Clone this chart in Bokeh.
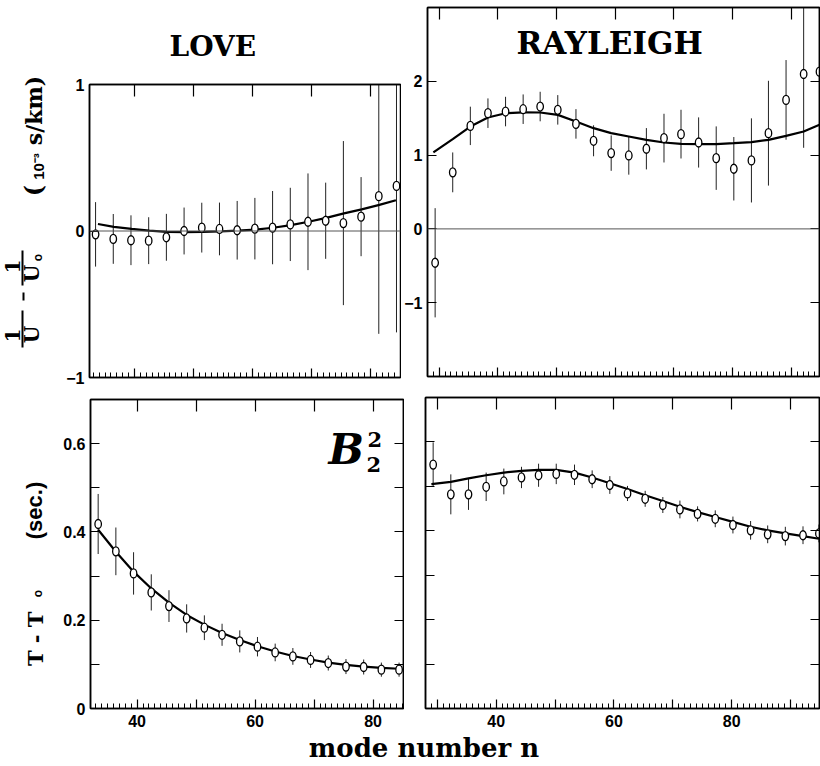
import numpy as np
from bokeh.plotting import figure
from bokeh.models import (Range1d, LinearAxis, FixedTicker, Span, Label, Title,
                          CustomLabelingPolicy)
from bokeh.layouts import row, column
from bokeh.embed import file_html
from bokeh.resources import INLINE

# ---------------- data ----------------
# LOVE (left panels)
love_n = [33.4, 36.4, 39.4, 42.4, 45.4, 48.4, 51.4, 54.4, 57.4, 60.4, 63.4, 66.4,
          69.4, 72.4, 75.4, 78.4, 81.4, 84.4]
love_du = [-0.023, -0.054, -0.063, -0.066, -0.043, 0.0, 0.023, 0.014, 0.005, 0.016,
           0.023, 0.045, 0.063, 0.070, 0.054, 0.098, 0.238, 0.308]
love_du_err = [0.22, 0.17, 0.17, 0.16, 0.16, 0.16, 0.17, 0.18, 0.20, 0.21, 0.25, 0.25,
               0.33, 0.26, 0.56, 0.27, 0.94, 1.00]
love_du_fit_n = [33.8, 36.5, 39.5, 42.5, 45.5, 48.5, 51.5, 54.5, 57.5, 60.5, 63.5, 66.5,
                 69.5, 72.5, 75.5, 78.5, 81.5, 84.3]
love_du_fit = [0.048, 0.028, 0.014, 0.003, -0.006, -0.008, -0.006, -0.002, 0.003, 0.010,
               0.022, 0.040, 0.063, 0.090, 0.120, 0.148, 0.178, 0.210]
love_dt = [0.418, 0.356, 0.306, 0.263, 0.232, 0.204, 0.183, 0.167, 0.152, 0.140, 0.127,
           0.118, 0.110, 0.103, 0.095, 0.094, 0.088, 0.088]
love_dt_err = [0.068, 0.054, 0.048, 0.041, 0.036, 0.032, 0.028, 0.025, 0.025, 0.022,
               0.020, 0.019, 0.018, 0.017, 0.017, 0.017, 0.016, 0.016]
love_dt_fit = [0.405, 0.355, 0.310, 0.272, 0.240, 0.212, 0.190, 0.171, 0.155, 0.141,
               0.129, 0.119, 0.111, 0.104, 0.099, 0.095, 0.092, 0.090]

# RAYLEIGH (right panels)
ray_n = [29.3, 32.3, 35.3, 38.3, 41.3, 44.3, 47.2, 50.2, 53.3, 56.3, 59.3, 62.3, 65.3,
         68.3, 71.2, 74.2, 77.2, 80.2, 83.2, 86.1, 89.1, 92.1, 94.8]
ray_du = [-0.459, 0.766, 1.396, 1.568, 1.590, 1.622, 1.658, 1.613, 1.423, 1.194, 1.027,
          0.995, 1.086, 1.230, 1.284, 1.171, 0.959, 0.815, 0.928, 1.297, 1.748, 2.099, 2.131]
ray_du_err = [0.74, 0.27, 0.26, 0.20, 0.20, 0.20, 0.20, 0.20, 0.20, 0.21, 0.24, 0.26,
              0.28, 0.33, 0.33, 0.34, 0.43, 0.43, 0.57, 0.71, 0.54, 1.00, 1.30]
ray_fit_n = [29.0, 32.3, 35.3, 38.3, 41.3, 44.3, 47.2, 50.2, 53.3, 56.3, 59.3, 62.3, 65.3,
             68.3, 71.2, 74.2, 77.2, 80.2, 83.2, 86.1, 89.1, 92.1, 94.8]
ray_du_fit = [1.036, 1.216, 1.387, 1.510, 1.567, 1.580, 1.577, 1.545, 1.455, 1.365, 1.297,
              1.252, 1.207, 1.171, 1.153, 1.149, 1.149, 1.162, 1.176, 1.207, 1.261, 1.320, 1.410]
ray_dt = [0.549, 0.482, 0.482, 0.499, 0.511, 0.520, 0.525, 0.528, 0.526, 0.516, 0.503,
          0.484, 0.472, 0.458, 0.448, 0.438, 0.427, 0.413, 0.401, 0.392, 0.388, 0.390, 0.394]
ray_dt_err = [0.050, 0.045, 0.035, 0.032, 0.029, 0.024, 0.026, 0.023, 0.023, 0.020, 0.020,
              0.017, 0.018, 0.018, 0.020, 0.017, 0.019, 0.019, 0.021, 0.020, 0.021, 0.020, 0.020]
ray_dt_fit = [0.505, 0.510, 0.518, 0.525, 0.531, 0.535, 0.537, 0.537, 0.531, 0.520, 0.507,
              0.494, 0.480, 0.467, 0.454, 0.442, 0.431, 0.420, 0.409, 0.401, 0.394, 0.388, 0.382]

x_major = [30, 40, 50, 60, 70, 80, 90]
x_labelled = [40, 60, 80]

TICK_FONT = "Liberation Sans"
SERIF = "DejaVu Serif"

KEEP_CODE = "for (const i of indices) { if (keep.includes(i)) yield i }"


def style_axis(ax, major_in, minor_in):
    ax.axis_line_color = "black"
    ax.axis_line_width = 1.5
    ax.major_tick_line_color = "black"
    ax.major_tick_line_width = 1.2
    ax.minor_tick_line_color = "black"
    ax.minor_tick_line_width = 1.0
    ax.major_tick_out = 0
    ax.minor_tick_out = 0
    ax.major_tick_in = major_in
    ax.minor_tick_in = minor_in


def no_labels(ax):
    ax.major_label_text_font_size = "0px"
    ax.major_label_standoff = 0
    ax.major_label_policy = CustomLabelingPolicy(code=KEEP_CODE, args=dict(keep=[]))


def with_labels(ax, standoff):
    ax.major_label_text_font = TICK_FONT
    ax.major_label_text_font_style = "bold"
    ax.major_label_text_font_size = "16px"
    ax.major_label_text_color = "black"
    ax.major_label_standoff = standoff


def panel(w, h, bl, bt, br, bb, xr, yr, yticks, yminor, show_x, show_y, right_ticks):
    p = figure(width=w, height=h, x_range=Range1d(*xr), y_range=Range1d(*yr),
               x_axis_type=None, y_axis_type=None, output_backend="svg",
               toolbar_location=None, min_border_left=bl, min_border_top=bt,
               min_border_right=br, min_border_bottom=bb)
    p.frame_align = False
    p.outline_line_color = "black"
    p.outline_line_width = 1.5
    p.background_fill_color = "white"
    p.border_fill_color = "white"

    below = LinearAxis(ticker=FixedTicker(ticks=x_major, minor_ticks=list(range(26, 97))))
    style_axis(below, 9, 5)
    if show_x:
        with_labels(below, 6)
        shown = [t for t in x_major if xr[0] <= t <= xr[1]]
        keep = [i for i, t in enumerate(shown) if t in x_labelled]
        below.major_label_policy = CustomLabelingPolicy(code=KEEP_CODE, args=dict(keep=keep))
    else:
        no_labels(below)
    p.add_layout(below, "below")

    above = LinearAxis(ticker=FixedTicker(ticks=x_major, minor_ticks=[]))
    style_axis(above, 12, 0)
    no_labels(above)
    p.add_layout(above, "above")

    left = LinearAxis(ticker=FixedTicker(ticks=yticks, minor_ticks=yminor))
    style_axis(left, 9, 9)
    if show_y:
        with_labels(left, 5)
    else:
        no_labels(left)
    p.add_layout(left, "left")

    if right_ticks:
        right = LinearAxis(ticker=FixedTicker(ticks=yticks, minor_ticks=yminor))
        style_axis(right, 9, 9)
        no_labels(right)
        p.add_layout(right, "right")
    return p


def draw(p, n, y, err, fit_n, fit):
    y = np.array(y)
    e = np.array(err)
    p.segment(x0=n, y0=y - e, x1=n, y1=y + e, line_color="#222222", line_width=1)
    p.line(fit_n, fit, line_color="black", line_width=2.2)
    p.ellipse(x=n, y=y, width=6.5, height=9, width_units="screen", height_units="screen",
              fill_color="white", line_color="black", line_width=1.3)


def px2data(px, py, frame, xr, yr):
    fl, ft, fr, fb = frame
    x = xr[0] + (px - fl) / (fr - fl) * (xr[1] - xr[0])
    y = yr[0] + (fb - py) / (fb - ft) * (yr[1] - yr[0])
    return x, y


def tlabel(p, x, y, text, size, style="bold", align="left"):
    # y is the vertical middle of the text
    p.add_layout(Label(x=x, y=y, text=text, text_font=SERIF, text_font_style=style,
                       text_font_size=size, text_align=align, text_baseline="middle",
                       text_color="black"))


# ---------------- panels ----------------
TOP_H, BOT_H = 385, 348

xr1, yr1 = (32.37, 85.08), (-1.0, 1.0)
p1 = panel(351, TOP_H, 39, 84, 1, 8, xr1, yr1, [-1, 0, 1], [], False, True, False)
p1.add_layout(Span(location=0, dimension="width", line_color="#555555", line_width=1))
draw(p1, love_n, love_du, love_du_err, love_du_fit_n, love_du_fit)
p1.add_layout(Title(text="LOVE", align="left", offset=80, standoff=43, text_font=SERIF,
                    text_font_style="bold", text_font_size="28px", text_color="black"),
              "above")

xr2, yr2 = (28.0, 94.8), (-2.0, 3.0)
p2 = panel(419, TOP_H, 22, 7, 1, 9, xr2, yr2, [-1, 0, 1, 2], [], False, True, True)
p2.add_layout(Span(location=0, dimension="width", line_color="#555555", line_width=1))
draw(p2, ray_n, ray_du, ray_du_err, ray_fit_n, ray_du_fit)
rx, ry = px2data(607, 42.5, (423, 7, 819, 376), xr2, yr2)
tlabel(p2, rx, ry, "RAYLEIGH", "31px", align="center")

xr3, yr3 = (32.1, 85.15), (0.0, 0.7)
p3 = panel(354, BOT_H, 40, 14, 1, 25, xr3, yr3, [0, 0.2, 0.4, 0.6], [0.1, 0.3, 0.5],
           True, True, True)
draw(p3, love_n, love_dt, love_dt_err, love_n, love_dt_fit)
f3 = (90, 399, 403, 708)
bx, by = px2data(328, 449, f3, xr3, yr3)
tlabel(p3, bx, by, "B", "42px", style="bold italic")
sx, sy = px2data(366, 464, f3, xr3, yr3)
tlabel(p3, sx, sy, "2", "21px")
ux, uy = px2data(367, 439, f3, xr3, yr3)
tlabel(p3, ux, uy, "2", "21px")

xr4, yr4 = (28.0, 94.9), (0.0, 0.7)
p4 = panel(416, BOT_H, 21, 12, 1, 25, xr4, yr4, [0, 0.2, 0.4, 0.6], [0.1, 0.3, 0.5],
           True, False, True)
draw(p4, ray_n, ray_dt, ray_dt_err, ray_fit_n, ray_dt_fit)


# ---------------- label strips ----------------
def strip(w, h):
    s = figure(width=w, height=h, x_range=Range1d(0, w), y_range=Range1d(0, h),
               x_axis_type=None, y_axis_type=None, output_backend="svg",
               toolbar_location=None, min_border=0)
    s.frame_align = False
    s.outline_line_color = None
    s.background_fill_color = "white"
    s.border_fill_color = "white"
    return s


def rlabel(s, h, top, cx, cy, text, font, style, size):
    # cx, cy: centre of the rotated text in page pixels; top: strip's top in the page
    s.add_layout(Label(x=cx, y=h - (cy - top), text=text, text_font=font,
                       text_font_style=style, text_font_size=size, text_align="center",
                       text_baseline="middle", angle=np.pi / 2, text_color="black"))


L1 = strip(50, TOP_H)
rlabel(L1, TOP_H, 0, 33, 110, "s/km)", SERIF, "bold", "22px")
rlabel(L1, TOP_H, 0, 38, 166, "10⁻³", TICK_FONT, "bold", "15px")
rlabel(L1, TOP_H, 0, 33, 190, "(", SERIF, "bold", "24px")
rlabel(L1, TOP_H, 0, 12, 335, "1", SERIF, "bold", "20px")
rlabel(L1, TOP_H, 0, 31, 334, "U", SERIF, "bold", "20px")
rlabel(L1, TOP_H, 0, 12, 266, "1", SERIF, "bold", "20px")
rlabel(L1, TOP_H, 0, 31, 273, "U", SERIF, "bold", "20px")
rlabel(L1, TOP_H, 0, 37, 257, "o", TICK_FONT, "bold", "12px")
L1.segment(x0=[22, 22, 23], y0=[TOP_H - 310, TOP_H - 250, TOP_H - 292],
           x1=[22, 22, 23], y1=[TOP_H - 347, TOP_H - 285, TOP_H - 300],
           line_color="black", line_width=2)

L2 = strip(50, BOT_H)
rlabel(L2, BOT_H, TOP_H, 35, 631, "T  -  T", SERIF, "bold", "21px")
rlabel(L2, BOT_H, TOP_H, 37, 593, "o", TICK_FONT, "bold", "12px")
rlabel(L2, BOT_H, TOP_H, 34, 510, "(sec.)", TICK_FONT, "bold", "22px")

T_TOP = TOP_H + BOT_H
T_H = 766 - T_TOP
T = strip(820, T_H)
T.add_layout(Label(x=428, y=T_H - (747.5 - T_TOP), text="mode number  n", text_font=SERIF,
                   text_font_style="bold", text_font_size="26px", text_align="center",
                   text_baseline="middle", text_color="black"))

layout = column(row(L1, p1, p2), row(L2, p3, p4), T)

open("out.html", "w").write(file_html(layout, INLINE))
